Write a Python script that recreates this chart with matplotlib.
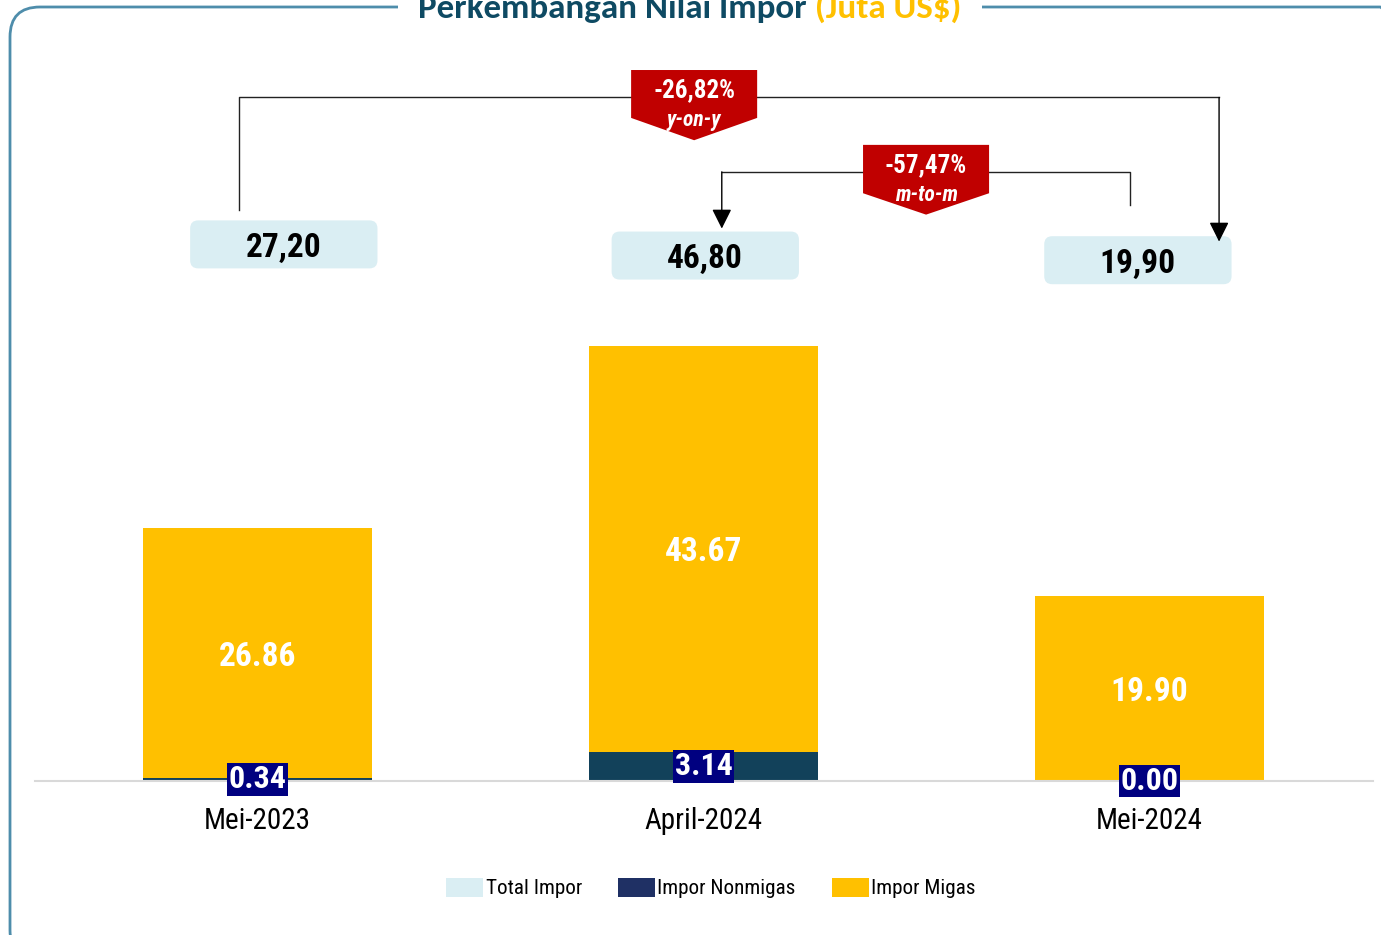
import matplotlib
matplotlib.use('Agg')
import matplotlib.pyplot as plt
from matplotlib.patches import Patch, Polygon, FancyBboxPatch, Rectangle
from matplotlib.transforms import IdentityTransform

# Data
categories = ['Mei-2023', 'April-2024', 'Mei-2024']
nonmigas = [0.34, 3.14, 0.00]
migas = [26.86, 43.67, 19.90]
total = [27.20, 46.80, 19.90]
yoy_label = ['-26,82%', 'y-on-y']
mtm_label = ['-57,47%', 'm-to-m']

plt.rcParams['font.family'] = ['Roboto Condensed', 'Liberation Sans', 'DejaVu Sans']
title_font = ['Carlito', 'Lato', 'DejaVu Sans']

c_migas = '#FFC000'
c_nonmigas = '#12415A'
c_legend_nonmigas = '#1F3064'
c_total = '#DAEEF3'
c_red = '#C00000'
c_navy = '#000080'

W, H = 1381, 935
fig = plt.figure(figsize=(W / 100, H / 100), dpi=100)
px_per_unit = 9.3
ymax = 774 / px_per_unit
ax = fig.add_axes([34.5 / W, 154 / H, 1338 / W, 774 / H])
ax.set_xlim(-0.5, 2.5)
ax.set_ylim(0, ymax)
for s in ['top', 'left', 'right']:
    ax.spines[s].set_visible(False)
ax.spines['bottom'].set_color('#D9D9D9')
ax.spines['bottom'].set_linewidth(1.5)
ax.set_yticks([])

x = list(range(len(categories)))
bw = 0.513
ax.bar(x, nonmigas, width=bw, color=c_nonmigas, zorder=2)
ax.bar(x, migas, width=bw, bottom=nonmigas, color=c_migas, zorder=2)
ax.set_xticks(x)
ax.set_xticklabels(categories, fontsize=21)
ax.tick_params(axis='x', length=0, pad=19)

# value labels
nudge = 0.4  # push text a bit down so digits sit visually centred
for i in x:
    ax.text(i, nonmigas[i] + migas[i] / 2 - nudge, f'{migas[i]:.2f}', ha='center', va='center',
            color='white', fontsize=24, fontweight='bold', zorder=4)
    ax.text(i, nonmigas[i] / 2, f'{nonmigas[i]:.2f}', ha='center', va='center',
            color='white', fontsize=23, fontweight='bold', zorder=5,
            bbox=dict(boxstyle='square,pad=0.04', fc=c_navy, ec='none'))

# total boxes (positions in axes data units)
aspect = (1338 / 3) / px_per_unit
box_x = [0.059, 1.004, 1.974]
box_y = [57.7, 56.5, 56.0]
box_w, box_h = 0.42, 48 / px_per_unit
for i in x:
    ax.add_patch(FancyBboxPatch((box_x[i] - box_w / 2, box_y[i] - box_h / 2), box_w, box_h,
                                boxstyle='round,pad=0,rounding_size=0.018', mutation_aspect=aspect,
                                fc=c_total, ec='none', clip_on=False, zorder=3))
    ax.text(box_x[i], box_y[i] - nudge, f'{total[i]:.2f}'.replace('.', ','), ha='center',
            va='center', fontsize=24, fontweight='bold', color='black', zorder=4, clip_on=False)

# connectors
lc = '#222222'
arrow = dict(arrowstyle='-|>,head_length=0.6,head_width=0.3', color='black', lw=1,
             shrinkA=0, shrinkB=0, mutation_scale=20)
ax.plot([-0.041, -0.041, 2.156], [61.4, 73.5, 73.5], color=lc, lw=1, clip_on=False, zorder=3)
ax.annotate('', xy=(2.156, 58.0), xytext=(2.156, 73.5), annotation_clip=False, arrowprops=arrow)
ax.plot([1.956, 1.956, 1.041], [61.9, 65.5, 65.5], color=lc, lw=1, clip_on=False, zorder=3)
ax.annotate('', xy=(1.041, 59.4), xytext=(1.041, 65.5), annotation_clip=False, arrowprops=arrow)


def badge(cx, top, rect_bottom, tip, lines):
    hw = 0.1413
    ax.add_patch(Polygon([(cx - hw, top), (cx + hw, top), (cx + hw, rect_bottom), (cx, tip),
                          (cx - hw, rect_bottom)], closed=True, fc=c_red, ec='none',
                         clip_on=False, zorder=5))
    ax.text(cx, top - 2.2, lines[0], ha='center', va='center', color='white',
            fontsize=18, fontweight='bold', zorder=6)
    ax.text(cx, top - 5.35, lines[1], ha='center', va='center', color='white',
            fontsize=15.5, fontweight='bold', style='italic', zorder=6)


badge(0.979, 76.45, 71.3, 68.9, yoy_label)
badge(1.499, 68.4, 63.2, 60.9, mtm_label)

# frame
fig.patches.append(FancyBboxPatch((10, H - 960), 1400, 953, boxstyle='round,pad=0,rounding_size=30',
                                  transform=IdentityTransform(), fc='none', ec='#4E8DAB', lw=2))
fig.patches.append(Rectangle((398, H - 20), 584, 20, transform=IdentityTransform(),
                             fc='white', ec='none'))

# title in two colours
t1 = fig.text(418 / W, 1 - 18 / H, 'Perkembangan Nilai Impor', ha='left', va='baseline',
              fontsize=25.2, fontweight='bold', color='#0E4A63', family=title_font)
fig.canvas.draw()
ext = t1.get_window_extent()
fig.text(ext.x1 / W, 1 - 18 / H, ' (Juta US$)', ha='left', va='baseline',
         fontsize=25.2, fontweight='bold', color=c_migas, family=title_font)

# legend
handles = [Patch(fc=c_total, ec='none'), Patch(fc=c_legend_nonmigas, ec='none'),
           Patch(fc=c_migas, ec='none')]
fig.legend(handles, ['Total Impor', 'Impor Nonmigas', 'Impor Migas'], loc='center',
           bbox_to_anchor=(711 / W, 1 - 888 / H), ncol=3, frameon=False, fontsize=15.2,
           handlelength=1.75, handleheight=1.05, handletextpad=0.12, columnspacing=1.7)

fig.savefig('out.png', dpi=100)
